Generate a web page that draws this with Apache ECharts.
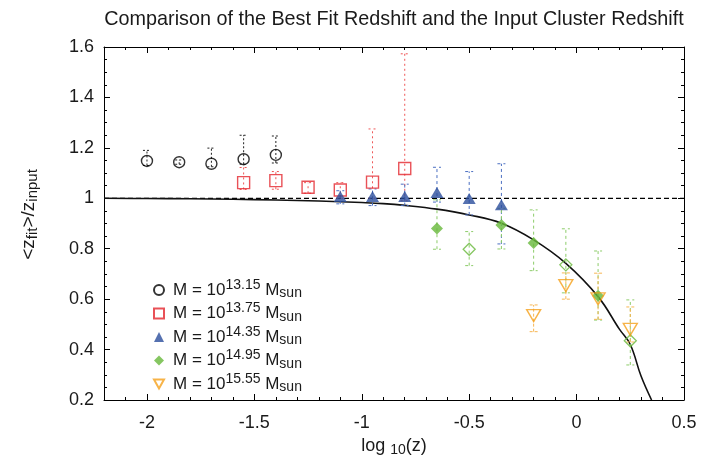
<!DOCTYPE html>
<html><head><meta charset="utf-8">
<script src="https://cdn.jsdelivr.net/npm/echarts/dist/echarts.min.js"></script>
<style>html,body{margin:0;padding:0;background:#fff}#c{width:701px;height:465px}</style>
</head><body><div id="c"></div>
<script>
// ---- tick labels ----
const xTicks = [-2, -1.5, -1, -0.5, 0, 0.5];
const xMinorTicks = [-2.1, -1.9, -1.8, -1.7, -1.6, -1.4, -1.3, -1.2, -1.1, -0.9, -0.8, -0.7, -0.6,
                     -0.4, -0.3, -0.2, -0.1, 0.1, 0.2, 0.3, 0.4];
// ---- series names ----
const names = ['M = 10^13.15 M_sun', 'M = 10^13.75 M_sun', 'M = 10^14.35 M_sun', 'M = 10^14.95 M_sun', 'M = 10^15.55 M_sun'];
const exps = ['13.15', '13.75', '14.35', '14.95', '15.55'];
// ---- M = 10^13.15 ----
const x1 = [-2.0, -1.85, -1.7, -1.55, -1.4];
const y1 = [1.148, 1.143, 1.137, 1.155, 1.172];
const lo1 = [1.13, 1.135, 1.125, 1.135, 1.14];
const hi1 = [1.19, 1.152, 1.199, 1.25, 1.247];
// ---- M = 10^13.75 ----
const x2 = [-1.55, -1.4, -1.25, -1.1, -0.95, -0.8];
const y2 = [1.062, 1.07, 1.044, 1.033, 1.064, 1.118];
const lo2 = [1.035, 1.036, 1.02, 1.0, 1.0, 0.99];
const hi2 = [1.122, 1.106, 1.062, 1.062, 1.275, 1.573];
// ---- M = 10^14.35 ----
const x3 = [-1.1, -0.95, -0.8, -0.65, -0.5, -0.35];
const y3 = [1.007, 1.007, 1.007, 1.023, 0.999, 0.974];
const lo3 = [0.978, 0.971, 0.971, 0.985, 0.934, 0.819];
const hi3 = [1.03, 1.037, 1.056, 1.123, 1.106, 1.137];
// ---- M = 10^14.95 ----
const x4 = [-0.65, -0.5, -0.35, -0.2, -0.05, 0.1, 0.25];
const y4 = [0.880, 0.798, 0.894, 0.823, 0.736, 0.613, 0.435];
const lo4 = [0.798, 0.733, 0.799, 0.713, 0.625, 0.517, 0.339];
const hi4 = [0.994, 0.868, 0.96, 0.954, 0.879, 0.791, 0.597];
const filled4 = [true, false, true, true, false, true, false];
// ---- M = 10^15.55 ----
const x5 = [-0.2, -0.05, 0.1, 0.25];
const y5 = [0.535, 0.654, 0.601, 0.48];
const lo5 = [0.471, 0.60, 0.52, 0.43];
const hi5 = [0.577, 0.704, 0.703, 0.569];
// ---- model curve ----
const curveX = [-2.2, -2.0, -1.8, -1.6, -1.4, -1.2, -1.0, -0.9, -0.8, -0.65, -0.5, -0.35, -0.2, -0.05, 0.1, 0.2, 0.25, 0.3, 0.349];
const curveY = [1.0, 0.999, 0.998, 0.996, 0.993, 0.989, 0.983, 0.979, 0.972, 0.957, 0.934, 0.901, 0.835, 0.742, 0.61, 0.48, 0.42, 0.295, 0.2];
// ---- reference line ----
const refX = [-2.2, 0.5];
const refY = [1, 1];

const FONT = "'Liberation Sans', Arial, Helvetica, sans-serif";
const TXT = '#1a1a1a';
const markColors = ['#000000', '#e3262d', '#2a4d9c', '#66b83a', '#f5a01a'];
const barColors = ['#222222', '#ef5656', '#4b6fc2', '#8dcc6a', '#f7b653'];
const dashes = [[2, 2], [2, 3], [3, 3], [3, 3], [3, 2]];
const downTri = 'path://M0,0L10,0L5,9Z';

function zip(xs, ys) { return xs.map((x, i) => [x, ys[i]]); }

function errSeries(idx, xs, lo, hi) {
  return {
    type: 'custom', name: 'err' + idx, silent: true, z: 2, clip: true,
    data: xs.map((x, i) => [x, lo[i], hi[i]]),
    encode: { x: 0, y: [1, 2] },
    renderItem: function (params, api) {
      const x = api.value(0);
      const p1 = api.coord([x, api.value(1)]);
      const p2 = api.coord([x, api.value(2)]);
      const w = 4;
      const style = { stroke: barColors[idx], lineWidth: 1, lineDash: dashes[idx], fill: null };
      return { type: 'group', children: [
        { type: 'line', shape: { x1: p1[0], y1: p1[1], x2: p2[0], y2: p2[1] }, style: style },
        { type: 'line', shape: { x1: p1[0] - w, y1: p1[1], x2: p1[0] + w, y2: p1[1] }, style: style },
        { type: 'line', shape: { x1: p2[0] - w, y1: p2[1], x2: p2[0] + w, y2: p2[1] }, style: style }
      ] };
    }
  };
}

const hollow = 'rgba(255,255,255,0)';
const series = [
  { type: 'line', name: 'ref', data: zip(refX, refY), symbol: 'none', silent: true, z: 1,
    lineStyle: { color: '#000', width: 1.2, type: [5, 3] } },
  { type: 'line', name: 'model', data: zip(curveX, curveY), symbol: 'none', smooth: 0.4, silent: true, z: 1, clip: true,
    lineStyle: { color: '#111', width: 1.6 } },
  errSeries(0, x1, lo1, hi1), errSeries(1, x2, lo2, hi2), errSeries(2, x3, lo3, hi3),
  errSeries(3, x4, lo4, hi4), errSeries(4, x5, lo5, hi5),
  { type: 'scatter', name: names[0], data: zip(x1, y1), symbol: 'circle', symbolSize: 11, z: 5,
    itemStyle: { color: hollow, borderColor: markColors[0], borderWidth: 1.4 } },
  { type: 'scatter', name: names[1], data: zip(x2, y2), symbol: 'rect', symbolSize: 12, z: 5,
    itemStyle: { color: hollow, borderColor: markColors[1], borderWidth: 1.4 } },
  { type: 'scatter', name: names[2], data: zip(x3, y3), symbol: 'triangle', symbolSize: [13, 11], z: 5,
    itemStyle: { color: markColors[2] } },
  { type: 'scatter', name: names[3], symbol: 'diamond', symbolSize: 12, z: 5,
    data: x4.map((x, i) => ({ value: [x, y4[i]],
      itemStyle: filled4[i] ? { color: markColors[3] } : { color: hollow, borderColor: markColors[3], borderWidth: 1.3 } })),
    itemStyle: { color: markColors[3] } },
  { type: 'scatter', name: names[4], data: zip(x5, y5), symbol: downTri, symbolSize: [14, 12], z: 5,
    itemStyle: { color: hollow, borderColor: markColors[4], borderWidth: 1.4 } }
];

const axLine = { show: true, onZero: false, lineStyle: { color: '#000', width: 1 } };
const tickStyle = { color: '#000', width: 1 };
function xAx(pos, custom, len, labels, extra) {
  return Object.assign({
    type: 'value', min: -2.2, max: 0.5, position: pos,
    axisLine: labels ? axLine : { show: false },
    axisTick: { show: true, inside: true, length: len, customValues: custom, lineStyle: tickStyle },
    axisLabel: labels ? { customValues: xTicks, color: TXT, fontSize: 18, fontFamily: FONT, margin: 14,
      formatter: v => String(v) } : { show: false },
    splitLine: { show: false }
  }, extra || {});
}
function yAx(pos, labels, extra) {
  return Object.assign({
    type: 'value', min: 0.2, max: 1.6, interval: 0.2, position: pos,
    axisLine: axLine,
    axisTick: { show: true, inside: true, length: 6, lineStyle: tickStyle },
    minorTick: { show: true, splitNumber: 4, length: 3, lineStyle: tickStyle },
    axisLabel: labels ? { color: TXT, fontSize: 18, fontFamily: FONT, margin: 10,
      formatter: v => (Math.abs(v - 1) < 1e-9 ? '1' : v.toFixed(1)) } : { show: false },
    splitLine: { show: false }
  }, extra || {});
}

const option = {
  animation: false,
  backgroundColor: '#fff',
  title: { text: 'Comparison of the Best Fit Redshift and the Input Cluster Redshift', left: 389, top: 5, textAlign: 'center',
    textStyle: { fontFamily: FONT, fontSize: 19.8, fontWeight: 'normal', color: TXT } },
  grid: { left: 104, right: 17, top: 47, bottom: 65 },
  legend: {
    orient: 'vertical', left: 153, top: 278, padding: 0, itemWidth: 10, itemHeight: 10, itemGap: 1,
    data: names, selectedMode: false,
    formatter: function (n) { const i = names.indexOf(n); return '{m0|M = 10}{sup|' + exps[i] + '}{m| M}{sub|sun}'; },
    textStyle: { fontFamily: FONT, color: TXT,
      rich: { m0: { fontSize: 17, fontFamily: FONT, color: TXT, padding: [0, 0, 0, 4] },
        m: { fontSize: 17, fontFamily: FONT, color: TXT },
        sup: { fontSize: 14, fontFamily: FONT, color: TXT, padding: [0, 0, 10, 0] },
        sub: { fontSize: 14, fontFamily: FONT, color: TXT, padding: [7, 0, 0, 0] } } }
  },
  xAxis: [
    xAx('bottom', xTicks, 6, true, { name: '{a|log }{b|10}{a|(z)}', nameLocation: 'middle', nameGap: 29,
      nameTextStyle: { rich: { a: { fontSize: 18, fontFamily: FONT, color: TXT },
        b: { fontSize: 14, fontFamily: FONT, color: TXT, padding: [8, 0, 0, 0] } } } }),
    xAx('bottom', xMinorTicks, 3, false),
    xAx('top', xTicks, 6, false, { axisLine: axLine }),
    xAx('top', xMinorTicks, 3, false)
  ],
  yAxis: [
    yAx('left', true, { name: '{a|<z}{b|fit}{a|>/z}{b|input}', nameLocation: 'middle', nameGap: 64, nameRotate: 90,
      nameTextStyle: { padding: [0, 0, 0, 18], rich: { a: { fontSize: 19, fontFamily: FONT, color: TXT },
        b: { fontSize: 15, fontFamily: FONT, color: TXT, padding: [8, 0, 0, 0] } } } }),
    yAx('right', false)
  ],
  series: series
};
echarts.init(document.getElementById('c'), null, { renderer: 'canvas' }).setOption(option);
</script>
</body></html>
